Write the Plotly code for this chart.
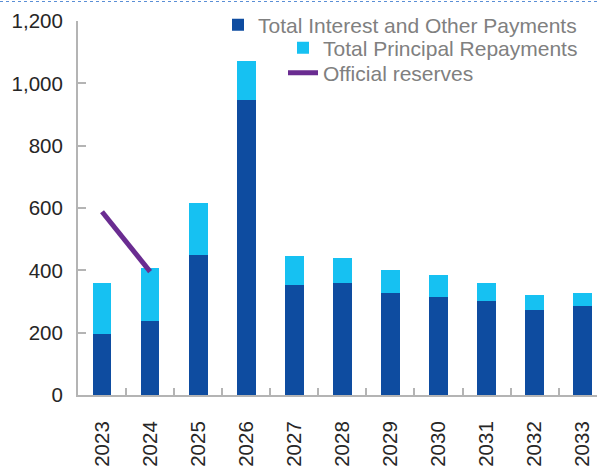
import plotly.graph_objects as go

# Annual external debt service (US$ millions) and official reserves
years = ["2023", "2024", "2025", "2026", "2027", "2028", "2029", "2030", "2031", "2032", "2033"]
interest_other = [195, 236, 448, 946, 354, 358, 326, 316, 303, 274, 287]
principal = [165, 170, 168, 127, 91, 82, 76, 68, 56, 47, 39]
reserve_years = ["2023", "2024"]
reserves = [588, 396]

y_ticks = [0, 200, 400, 600, 800, 1000, 1200]
y_tick_text = ["0", "200", "400", "600", "800", "1,000", "1,200"]

DARK_BLUE = "#0E4CA0"
CYAN = "#16C1F2"
PURPLE = "#6A2C91"
AXIS_GREY = "#B4B4B4"
FONT = "Liberation Sans, Arial, sans-serif"

# plot area geometry in pixels (used to place legends and the top rule)
PLOT_L, PLOT_T, PLOT_W, PLOT_H = 78, 21, 519, 374


def px_x(px):
    return (px - PLOT_L) / PLOT_W


def px_y(py):
    return (PLOT_T + PLOT_H - py) / PLOT_H


fig = go.Figure()

fig.add_trace(go.Bar(
    x=years, y=interest_other, name="Total Interest and Other Payments",
    marker=dict(color=DARK_BLUE, line=dict(width=0)), width=0.39,
    legend="legend",
))
fig.add_trace(go.Bar(
    x=years, y=principal, name="Total Principal Repayments",
    marker=dict(color=CYAN, line=dict(width=0)), width=0.39,
    legend="legend2",
))
fig.add_trace(go.Scatter(
    x=reserve_years, y=reserves, name="Official reserves", mode="lines",
    line=dict(color=PURPLE, width=5),
    legend="legend3",
))

legend_common = dict(
    xref="paper", yref="paper", xanchor="left", yanchor="middle",
    font=dict(family=FONT, size=21, color="#808080"),
    bgcolor="rgba(0,0,0,0)", borderwidth=0,
)

fig.update_layout(
    width=597, height=466,
    margin=dict(l=PLOT_L, r=0, t=PLOT_T, b=466 - PLOT_T - PLOT_H, autoexpand=False),
    barmode="stack",
    plot_bgcolor="white", paper_bgcolor="white",
    font=dict(family=FONT, size=20.5, color="#262626"),
    showlegend=True,
    legend=dict(x=px_x(218), y=px_y(25), **legend_common),
    legend2=dict(x=px_x(283), y=px_y(48), **legend_common),
    legend3=dict(x=px_x(283), y=px_y(73), **legend_common),
    xaxis=dict(
        type="category", range=[-0.5, 10.297],
        showline=True, linecolor=AXIS_GREY, linewidth=2,
        ticks="inside", tickson="boundaries", ticklen=7, tickwidth=1.5, tickcolor=AXIS_GREY,
        tickangle=-90, ticklabelstandoff=16,
        tickfont=dict(family=FONT, size=20.5, color="#262626"),
        showgrid=False, zeroline=False, fixedrange=True, automargin=False,
    ),
    yaxis=dict(
        range=[0, 1200], tickvals=y_ticks, ticktext=y_tick_text,
        showline=True, linecolor=AXIS_GREY, linewidth=2,
        ticks="inside", ticklen=8, tickwidth=1.5, tickcolor=AXIS_GREY,
        ticklabelstandoff=9,
        tickfont=dict(family=FONT, size=20.5, color="#262626"),
        showgrid=False, zeroline=False, fixedrange=True, automargin=False,
    ),
    shapes=[dict(
        type="line", xref="paper", yref="paper",
        x0=px_x(0), x1=1, y0=px_y(1.5), y1=px_y(1.5),
        line=dict(color="#5B8FD6", width=1, dash="dot"),
    )],
)

fig.write_html("out.html")
